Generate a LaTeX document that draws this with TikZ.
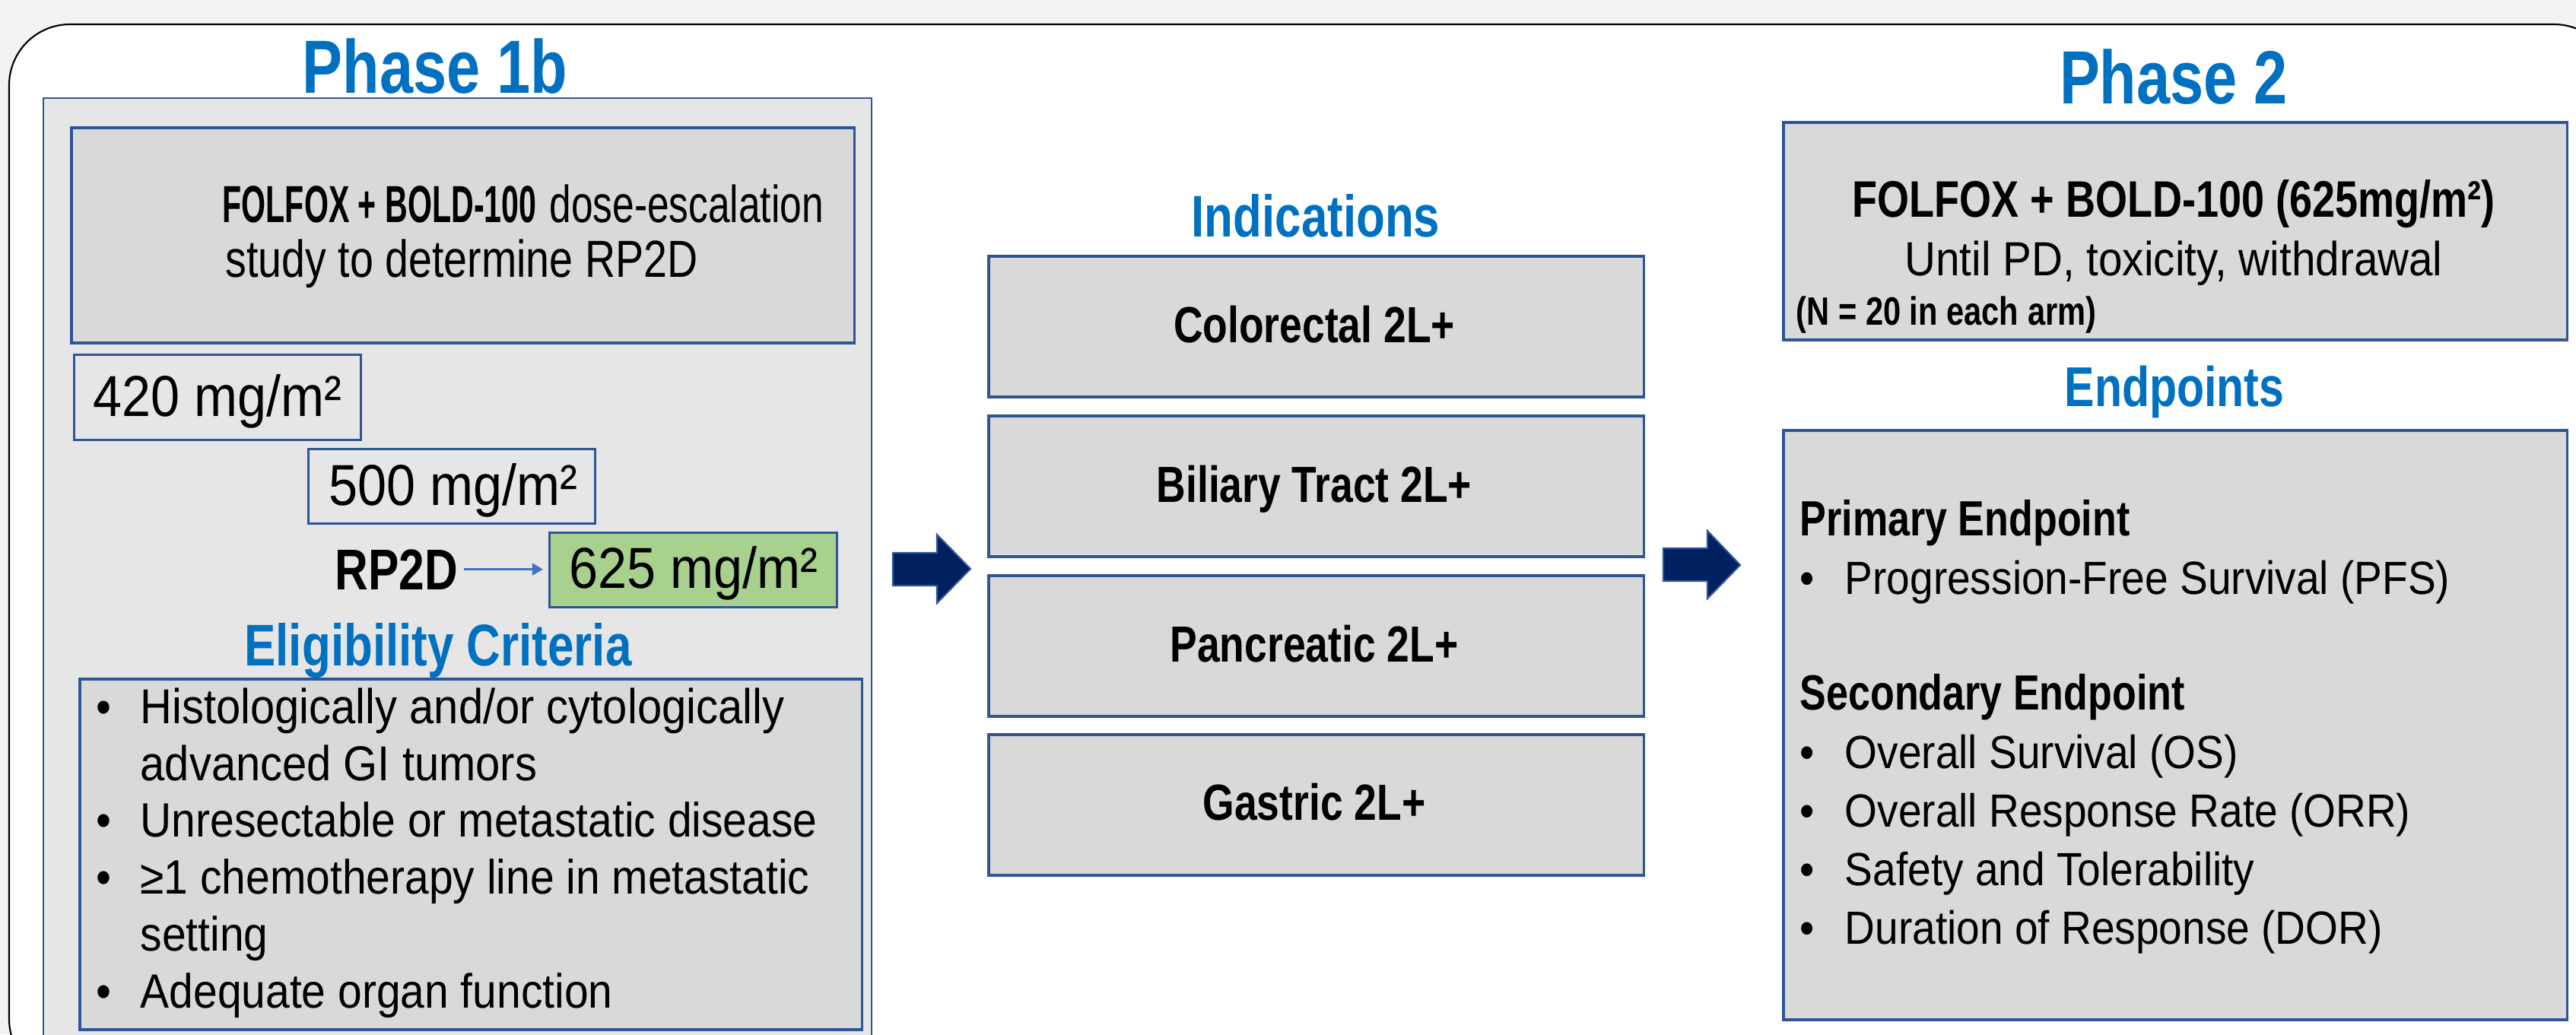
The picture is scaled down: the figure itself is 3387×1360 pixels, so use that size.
\documentclass[tikz,border=0pt]{standalone}
\usepackage{fontspec}
\setmainfont{Liberation Sans}[FakeStretch=0.9]
\newfontfamily\bdf{Liberation Sans}[FakeStretch=0.8]
\newfontfamily\bdn{Liberation Sans}[FakeStretch=0.6]
\newfontfamily\rgn{Liberation Sans}[FakeStretch=0.75]
\newfontfamily\rgm{Liberation Sans}[FakeStretch=0.81]
\usetikzlibrary{arrows.meta}
\definecolor{titleblue}{HTML}{0070C0}
\definecolor{boxblue}{HTML}{2F5597}
\definecolor{boxgray}{HTML}{D9D9D9}
\definecolor{panelgray}{HTML}{E7E6E6}
\definecolor{navy}{HTML}{002060}
\definecolor{greenbox}{HTML}{A9D18E}
\definecolor{bggray}{HTML}{F2F2F2}
\definecolor{arrowblue}{HTML}{4472C4}
\newcommand{\fs}[1]{\fontsize{#1}{1.2\dimexpr #1\relax}\selectfont}
\tikzset{
  panel/.style={draw=boxblue, line width=0.6pt, fill=panelgray, anchor=north west, inner sep=0pt},
  gbox/.style={draw=boxblue, line width=1pt, fill=boxgray, anchor=north west, inner sep=0pt},
  dbox/.style={draw=boxblue, line width=0.9pt, anchor=north west, inner sep=0pt},
  grbox/.style={draw=boxblue, line width=0.9pt, fill=greenbox, anchor=north west, inner sep=0pt},
  txt/.style={inner sep=0pt, anchor=base},
  txtl/.style={inner sep=0pt, anchor=base west},
  bigtitle/.style={txt, text=titleblue, font=\bdf\bfseries\fs{28.2pt}},
  subtitle/.style={txt, text=titleblue, font=\bdf\bfseries\fs{22pt}},
  bigarrow/.style={fill=navy, draw=boxblue, line width=0.6pt, line join=miter},
}
\begin{document}
\begin{tikzpicture}[x=0.01cm, y=-0.01cm]
\useasboundingbox (0,0) rectangle (3387,1360);
\clip (0,0) rectangle (3387,1360);
\fill[bggray] (0,0) rectangle (3387,1360);
\draw[fill=white, line width=0.6pt, rounded corners=0.8cm] (12,1420) rectangle (3438,32);

% ---------------- Phase 1b ----------------
\node[bigtitle] (ph1) at (572,122) {Phase 1b};
\node[panel, minimum width=10.88cm, minimum height=12.92cm] (p1) at (56,128) {};
\node[gbox, minimum width=10.29cm, minimum height=2.83cm] (fol) at (92,166) {};
\node[txtl, font=\fs{19.5pt}] (fol1) at (292,292) {{\bdn\bfseries FOLFOX + BOLD-100} {\rgn dose-escalation}};
\node[txtl, font=\rgm\fs{19.5pt}] (fol2) at (296,364) {study to determine RP2D};

\node[dbox, minimum width=3.77cm, minimum height=1.12cm] (d420) at (96,465) {};
\node[txtl, font=\fs{21.6pt}] (t420) at (122,547) {420 mg/m²};
\node[dbox, minimum width=3.77cm, minimum height=0.98cm] (d500) at (404,589) {};
\node[txtl, font=\fs{21.6pt}] (t500) at (432,664) {500 mg/m²};
\node[grbox, minimum width=3.78cm, minimum height=0.98cm] (d625) at (721,699) {};
\node[txtl, font=\fs{21.6pt}] (t625) at (748,773) {625 mg/m²};
\node[txtl, font=\bdf\bfseries\fs{21.5pt}] (rp2d) at (440,775) {RP2D};
\draw[arrowblue, line width=0.8pt, -{Triangle[length=4pt, width=4.5pt]}, shorten <=2pt, shorten >=2pt]
  (rp2d.east) -- (rp2d.east -| d625.west);

\node[subtitle] (elt) at (576,875) {Eligibility Criteria};
\node[gbox, minimum width=10.28cm, minimum height=4.61cm] (elig) at (103,891) {};
\node[txtl, font=\fs{18pt}] (eb1) at (126,951) {•};
\node[txtl, font=\fs{18.3pt}] (e1) at (184,951) {Histologically and/or cytologically};
\node[txtl, font=\fs{18.3pt}] (e1b) at (184,1026) {advanced GI tumors};
\node[txtl, font=\fs{18pt}] (eb2) at (126,1100) {•};
\node[txtl, font=\fs{18pt}] (e2) at (184,1100) {Unresectable or metastatic disease};
\node[txtl, font=\fs{18pt}] (eb3) at (126,1175) {•};
\node[txtl, font=\fs{18pt}] (e3) at (184,1175) {≥1 chemotherapy line in metastatic};
\node[txtl, font=\fs{18pt}] (e3b) at (184,1250) {setting};
\node[txtl, font=\fs{18pt}] (eb4) at (126,1325) {•};
\node[txtl, font=\fs{18pt}] (e4) at (184,1325) {Adequate organ function};

% ---------------- Indications ----------------
\path[bigarrow] (1174,727) -- (1232,727) -- (1232,703) -- (1276,748) -- (1232,793) -- (1232,770) -- (1174,770) -- cycle;
\node[subtitle] (indt) at (1730,311) {Indications};
\node[gbox, minimum width=8.61cm, minimum height=1.85cm] (i1) at (1298,335) {};
\node[gbox, minimum width=8.61cm, minimum height=1.85cm] (i2) at (1298,545) {};
\node[gbox, minimum width=8.61cm, minimum height=1.85cm] (i3) at (1298,755) {};
\node[gbox, minimum width=8.61cm, minimum height=1.85cm] (i4) at (1298,964) {};
\node[txt, font=\bdf\bfseries\fs{19pt}] (it1) at (1728,450) {Colorectal 2L+};
\node[txt, font=\bdf\bfseries\fs{19pt}] (it2) at (1728,660) {Biliary Tract 2L+};
\node[txt, font=\bdf\bfseries\fs{19pt}] (it3) at (1728,870) {Pancreatic 2L+};
\node[txt, font=\bdf\bfseries\fs{19pt}] (it4) at (1728,1078) {Gastric 2L+};
\path[bigarrow] (2187,721) -- (2245,721) -- (2245,698) -- (2288,743) -- (2245,787) -- (2245,764) -- (2187,764) -- cycle;

% ---------------- Phase 2 ----------------
\node[bigtitle] (ph2) at (2858,136) {Phase 2};
\node[gbox, minimum width=10.30cm, minimum height=2.86cm] (p2) at (2343,159) {};
\node[txt, font=\bdf\bfseries\fs{19.2pt}] (p2a) at (2858,285) {FOLFOX + BOLD-100 (625mg/m²)};
\node[txt, font=\fs{17.9pt}] (p2b) at (2858,362) {Until PD, toxicity, withdrawal};
\node[txtl, font=\bdf\bfseries\fs{14.8pt}] (p2c) at (2361,427) {(N = 20 in each arm)};

\node[subtitle, font=\bdf\bfseries\fs{21pt}] (ept) at (2859,534) {Endpoints};
\node[gbox, minimum width=10.30cm, minimum height=7.75cm] (ep) at (2343,564) {};
\node[txtl, font=\bdf\bfseries\fs{18.5pt}] (pri) at (2366,704) {Primary Endpoint};
\node[txtl, font=\fs{17.4pt}] (pb1) at (2366,781) {•};
\node[txtl, font=\fs{17.4pt}] (pl1) at (2425,781) {Progression-Free Survival (PFS)};
\node[txtl, font=\bdf\bfseries\fs{18.5pt}] (sec) at (2366,933) {Secondary Endpoint};
\node[txtl, font=\fs{17.4pt}] (sb1) at (2366,1010) {•};
\node[txtl, font=\fs{17.4pt}] (sl1) at (2425,1010) {Overall Survival (OS)};
\node[txtl, font=\fs{17.4pt}] (sb2) at (2366,1087) {•};
\node[txtl, font=\fs{17.4pt}] (sl2) at (2425,1087) {Overall Response Rate (ORR)};
\node[txtl, font=\fs{17.4pt}] (sb3) at (2366,1164) {•};
\node[txtl, font=\fs{17.4pt}] (sl3) at (2425,1164) {Safety and Tolerability};
\node[txtl, font=\fs{17.4pt}] (sb4) at (2366,1241) {•};
\node[txtl, font=\fs{17.4pt}] (sl4) at (2425,1241) {Duration of Response (DOR)};
\end{tikzpicture}
\end{document}
